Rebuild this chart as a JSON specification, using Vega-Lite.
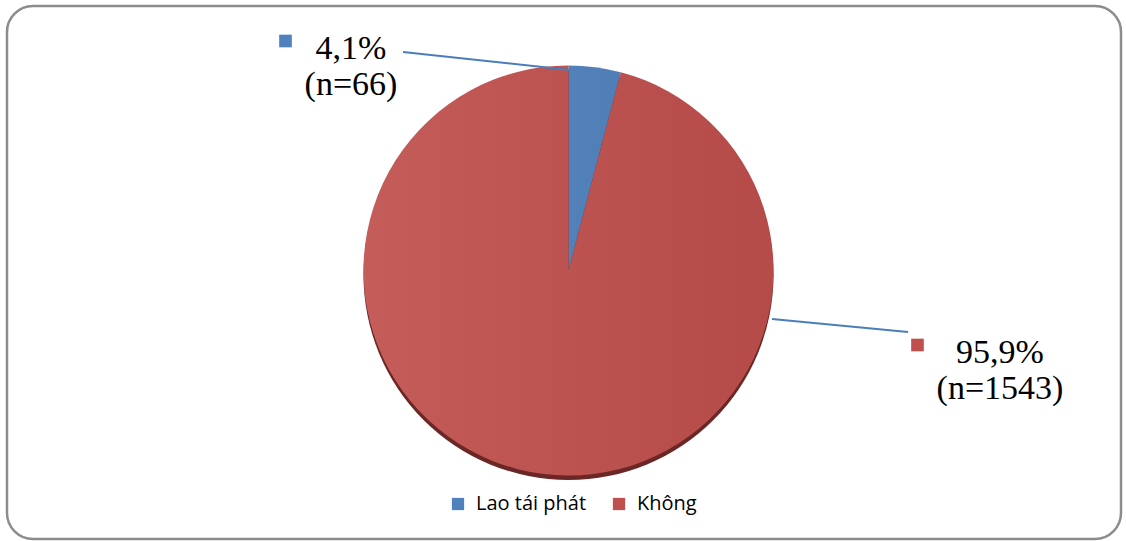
{
  "$schema": "https://vega.github.io/schema/vega-lite/v6.json",
  "width": 1126,
  "height": 541,
  "autosize": {"type": "fit", "contains": "padding"},
  "padding": {"left": 7, "top": 6, "right": 5, "bottom": 2},
  "background": "white",
  "view": {"stroke": "#8c8c8c", "strokeWidth": 2.5, "cornerRadius": 26, "fill": "white"},
  "data": {
    "values": [
      {"group": "Lao tái phát", "n": 66, "pct": 4.1, "label": "4,1%\n(n=66)"},
      {"group": "Không", "n": 1543, "pct": 95.9, "label": "95,9%\n(n=1543)"}
    ]
  },
  "layer": [
    {
      "transform": [{"aggregate": [{"op": "sum", "field": "n", "as": "total"}]}],
      "mark": {"type": "arc", "radius": 205, "xOffset": 4.5, "yOffset": 2.5, "fill": "#6b2725"},
      "encoding": {"theta": {"field": "total", "type": "quantitative"}}
    },
    {
      "mark": {"type": "arc", "radius": 205, "xOffset": 4.5, "yOffset": -2},
      "encoding": {
        "theta": {"field": "n", "type": "quantitative", "stack": true},
        "order": {"field": "n", "type": "quantitative", "sort": "ascending"},
        "color": {
          "field": "group",
          "type": "nominal",
          "scale": {"domain": ["Lao tái phát", "Không"], "range": ["#4f81bd", "#c0504d"]},
          "legend": {
            "orient": "none",
            "legendX": 441,
            "legendY": 488,
            "direction": "horizontal",
            "title": null,
            "symbolType": "square",
            "symbolSize": 150,
            "symbolStrokeWidth": 0,
            "labelFont": "Open Sans",
            "labelFontSize": 20,
            "labelColor": "#000000",
            "labelOffset": 8,
            "columnPadding": 22
          }
        }
      }
    },
    {
      "transform": [{"aggregate": [{"op": "sum", "field": "n", "as": "total"}]}],
      "mark": {
        "type": "arc",
        "radius": 205,
        "xOffset": 4.5,
        "yOffset": -2,
        "fill": {
          "gradient": "linear",
          "x1": 0, "y1": 0.5, "x2": 1, "y2": 0.5,
          "stops": [
            {"offset": 0, "color": "rgba(255,255,255,0.07)"},
            {"offset": 1, "color": "rgba(0,0,0,0.06)"}
          ]
        }
      },
      "encoding": {"theta": {"field": "total", "type": "quantitative"}}
    },
    {
      "transform": [{"filter": "datum.group == 'Lao tái phát'"}],
      "mark": {"type": "rule", "color": "#4a7ebb", "strokeWidth": 2},
      "encoding": {
        "x": {"value": 396}, "y": {"value": 46},
        "x2": {"value": 563}, "y2": {"value": 64}
      }
    },
    {
      "transform": [{"filter": "datum.group == 'Không'"}],
      "mark": {"type": "rule", "color": "#4a7ebb", "strokeWidth": 2},
      "encoding": {
        "x": {"value": 765}, "y": {"value": 313},
        "x2": {"value": 901}, "y2": {"value": 326}
      }
    },
    {
      "transform": [{"filter": "datum.group == 'Lao tái phát'"}],
      "mark": {"type": "point", "shape": "square", "filled": true, "size": 160, "opacity": 1, "x": 278.5, "y": 35, "color": "#4f81bd"},
      "encoding": {}
    },
    {
      "transform": [{"filter": "datum.group == 'Không'"}],
      "mark": {"type": "point", "shape": "square", "filled": true, "size": 160, "opacity": 1, "x": 910.5, "y": 339, "color": "#c0504d"},
      "encoding": {}
    },
    {
      "transform": [{"filter": "datum.group == 'Lao tái phát'"}],
      "mark": {"type": "text", "x": 344, "y": 53, "align": "center", "baseline": "alphabetic", "font": "Liberation Serif", "fontSize": 34, "lineHeight": 36, "lineBreak": "\n", "color": "#000000"},
      "encoding": {"text": {"field": "label"}}
    },
    {
      "transform": [{"filter": "datum.group == 'Không'"}],
      "mark": {"type": "text", "x": 993, "y": 357, "align": "center", "baseline": "alphabetic", "font": "Liberation Serif", "fontSize": 34, "lineHeight": 36, "lineBreak": "\n", "color": "#000000"},
      "encoding": {"text": {"field": "label"}}
    }
  ]
}
